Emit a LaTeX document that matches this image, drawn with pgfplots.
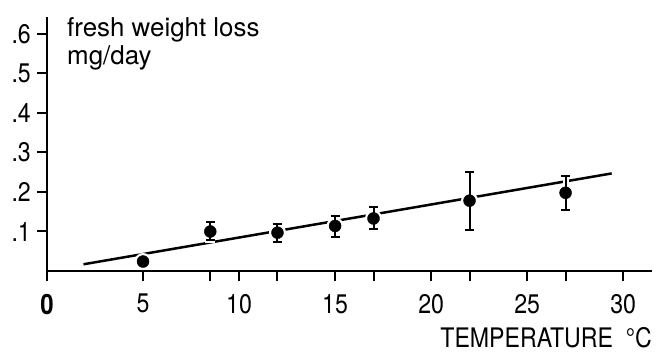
\documentclass[border=0pt]{standalone}
\usepackage{pgfplots}
\pgfplotsset{compat=1.18}
\usepackage{fontspec}
\setmainfont{TeX Gyre Heros}
\newfontfamily\narrowfont{TeX Gyre Heros}[FakeStretch=0.86]
\begin{document}
\begin{tikzpicture}
\begin{axis}[
  scale only axis, width=605bp, height=254bp,
  xmin=0, xmax=31.5, ymin=0, ymax=0.643,
  axis x line=bottom, axis y line=left,
  axis line style={-, line width=2.5bp, black},
  clip=false, clip marker paths=true,
  xtick={0,5,10,15,20,25,30},
  xticklabels={{\fontsize{28}{28}\selectfont\bfseries 0},5,10,15,20,25,30},
  extra x ticks={8.5,12,17,22,27},
  extra x tick labels={},
  ytick={0.1,0.2,0.3,0.4,0.5,0.6},
  yticklabels={.1,.2,.3,.4,.5,.6},
  tick align=outside,
  major tick length=10bp,
  every tick/.style={black, line width=2bp},
  tick label style={font=\narrowfont\fontsize{27}{27}\selectfont, inner sep=0pt},
  xticklabel style={yshift=-13bp},
  yticklabel style={xshift=-6bp},
  /pgf/number format/assume math mode=true,
]
\addplot[black, line width=2.5bp] coordinates {(1.9,0.017) (29.4,0.247)};
\addplot[white, line width=5bp, only marks, mark=*, mark size=6bp,
  error bars/.cd, y dir=both, y explicit,
  error bar style={line width=6bp, white},
  error mark options={rotate=90, mark size=5bp, line width=5bp, white}]
  table[x=x, y=y, y error plus=ep, y error minus=em] {
x y ep em
5 0.024 0 0
8.5 0.100 0.023 0.022
12 0.097 0.021 0.023
15 0.114 0.026 0.029
17 0.133 0.028 0.027
22 0.178 0.072 0.074
27 0.198 0.043 0.044
};
\addplot[black, only marks, mark=*, mark size=6bp,
  error bars/.cd, y dir=both, y explicit,
  error bar style={line width=2bp, black},
  error mark options={rotate=90, mark size=4.5bp, line width=2bp, black}]
  table[x=x, y=y, y error plus=ep, y error minus=em] {
x y ep em
5 0.024 0 0
8.5 0.100 0.023 0.022
12 0.097 0.021 0.023
15 0.114 0.026 0.029
17 0.133 0.028 0.027
22 0.178 0.072 0.074
27 0.198 0.043 0.044
};
\node[anchor=north west, align=left, inner sep=0pt,
  font=\fontsize{26}{28}\selectfont] at (axis cs:1.04,0.641) {fresh weight loss\\mg/day};
\node[anchor=base east, inner sep=0pt, font=\narrowfont\fontsize{27}{27}\selectfont]
  at ([yshift=-76bp]rel axis cs:1,0) {TEMPERATURE\ \ °C};
\coordinate (BL) at (rel axis cs:0,0);
\coordinate (TR) at (rel axis cs:1,1);
\end{axis}
\pgfresetboundingbox
\path[use as bounding box] ([xshift=-47bp,yshift=-81bp]BL) rectangle ([xshift=4bp,yshift=17bp]TR);
\end{tikzpicture}
\end{document}
